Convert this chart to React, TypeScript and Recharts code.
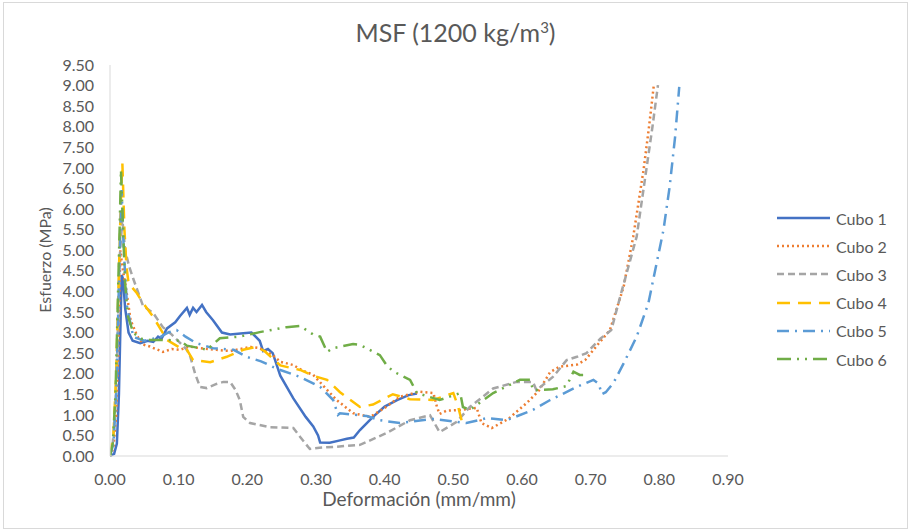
import React from 'react';
import { LineChart, Line, XAxis, YAxis } from 'recharts';

const xTicks = [0, 0.1, 0.2, 0.3, 0.4, 0.5, 0.6, 0.7, 0.8, 0.9];
const yTicks = [0, 0.5, 1, 1.5, 2, 2.5, 3, 3.5, 4, 4.5, 5, 5.5, 6, 6.5, 7, 7.5, 8, 8.5, 9, 9.5];

const cubo1: number[][] = [
  [0, 0], [0.006, 0.05], [0.01, 0.3], [0.013, 1.5], [0.015, 3.0], [0.017, 4.4], [0.019, 4.3], [0.022, 3.6],
  [0.027, 3.0], [0.033, 2.8], [0.044, 2.74], [0.055, 2.8], [0.063, 2.77], [0.07, 2.9], [0.075, 2.85],
  [0.083, 3.1], [0.095, 3.25], [0.102, 3.4], [0.112, 3.6], [0.116, 3.43], [0.121, 3.6], [0.126, 3.5],
  [0.134, 3.67], [0.14, 3.5], [0.15, 3.3], [0.163, 3.0], [0.175, 2.95], [0.194, 2.98], [0.206, 3.0],
  [0.218, 2.8], [0.223, 2.55], [0.23, 2.6], [0.237, 2.5], [0.248, 1.95], [0.267, 1.4], [0.285, 0.95],
  [0.296, 0.72], [0.303, 0.5], [0.306, 0.33], [0.32, 0.32], [0.335, 0.38], [0.345, 0.42], [0.355, 0.45],
  [0.364, 0.63], [0.383, 0.95], [0.4, 1.2], [0.418, 1.36], [0.435, 1.48], [0.447, 1.52],
];

const cubo2: number[][] = [
  [0, 0], [0.005, 0.2], [0.009, 1.0], [0.012, 2.5], [0.015, 5.0], [0.018, 4.6], [0.024, 4.0], [0.03, 3.3],
  [0.04, 2.9], [0.05, 2.7], [0.058, 2.66], [0.077, 2.53], [0.09, 2.6], [0.102, 2.58], [0.115, 2.66],
  [0.131, 2.62], [0.155, 2.58], [0.175, 2.55], [0.19, 2.6], [0.205, 2.65], [0.218, 2.62], [0.237, 2.45],
  [0.248, 2.29], [0.267, 2.21], [0.28, 2.08], [0.296, 1.97], [0.311, 1.7], [0.33, 1.36], [0.354, 1.04],
  [0.379, 0.95], [0.403, 1.2], [0.422, 1.44], [0.451, 1.56], [0.471, 1.53], [0.476, 1.2], [0.48, 1.02],
  [0.49, 1.1], [0.51, 1.12], [0.534, 1.17], [0.541, 0.8], [0.556, 0.68], [0.58, 0.9], [0.607, 1.29],
  [0.616, 1.44], [0.625, 1.6], [0.641, 2.04], [0.655, 2.17], [0.68, 2.22], [0.692, 2.33], [0.71, 2.7],
  [0.728, 3.06], [0.748, 4.11], [0.762, 5.33], [0.777, 6.95], [0.785, 8.0], [0.792, 9.01],
];

const cubo3: number[][] = [
  [0, 0], [0.004, 0.3], [0.008, 1.2], [0.011, 2.8], [0.014, 4.8], [0.018, 5.75], [0.022, 5.0], [0.028, 4.6],
  [0.034, 4.3], [0.048, 3.65], [0.063, 3.47], [0.077, 3.13], [0.09, 2.95], [0.112, 2.58], [0.117, 2.41],
  [0.124, 2.0], [0.131, 1.68], [0.141, 1.65], [0.155, 1.75], [0.165, 1.8], [0.175, 1.8], [0.183, 1.6],
  [0.189, 1.36], [0.194, 0.95], [0.204, 0.8], [0.233, 0.7], [0.267, 0.68], [0.277, 0.46], [0.291, 0.17],
  [0.305, 0.2], [0.325, 0.22], [0.364, 0.27], [0.403, 0.56], [0.437, 0.87], [0.466, 0.99], [0.48, 0.58],
  [0.505, 0.83], [0.524, 1.19], [0.558, 1.64], [0.592, 1.8], [0.616, 1.8], [0.621, 1.6], [0.645, 1.92],
  [0.665, 2.33], [0.68, 2.41], [0.694, 2.5], [0.714, 2.85], [0.73, 3.06], [0.743, 3.87], [0.767, 5.33],
  [0.781, 6.95], [0.79, 8.0], [0.798, 9.01],
];

const cubo4: number[][] = [
  [0, 0], [0.005, 0.5], [0.009, 2.0], [0.013, 4.5], [0.016, 6.3], [0.018, 7.12], [0.021, 5.5], [0.024, 4.6],
  [0.027, 4.2], [0.039, 3.96], [0.048, 3.72], [0.063, 3.38], [0.083, 2.82], [0.1, 2.65], [0.112, 2.58],
  [0.121, 2.33], [0.146, 2.28], [0.17, 2.41], [0.194, 2.58], [0.213, 2.65], [0.225, 2.55], [0.248, 2.2],
  [0.277, 2.09], [0.296, 1.95], [0.316, 1.85], [0.335, 1.55], [0.364, 1.19], [0.383, 1.25], [0.412, 1.5],
  [0.437, 1.38], [0.47, 1.36], [0.485, 1.44], [0.5, 1.53], [0.507, 1.2], [0.512, 0.87],
];

const cubo5: number[][] = [
  [0, 0], [0.005, 0.3], [0.009, 1.5], [0.012, 3.5], [0.015, 5.5], [0.017, 6.46], [0.02, 5.0], [0.025, 3.6],
  [0.034, 2.89], [0.05, 2.8], [0.073, 2.89], [0.085, 3.0], [0.097, 3.06], [0.11, 2.9], [0.126, 2.74],
  [0.15, 2.62], [0.18, 2.58], [0.199, 2.41], [0.22, 2.3], [0.238, 2.16], [0.248, 2.09], [0.277, 1.92],
  [0.306, 1.68], [0.325, 1.36], [0.332, 1.0], [0.335, 1.04], [0.374, 0.97], [0.393, 0.87], [0.422, 0.8],
  [0.47, 0.9], [0.519, 0.8], [0.549, 0.92], [0.578, 0.87], [0.616, 1.12], [0.641, 1.36], [0.68, 1.68],
  [0.704, 1.85], [0.712, 1.75], [0.716, 1.5], [0.722, 1.55], [0.733, 1.77], [0.748, 2.25], [0.767, 2.9],
  [0.784, 3.71], [0.796, 4.68], [0.806, 5.49], [0.815, 6.54], [0.823, 7.76], [0.829, 8.97],
];

const cubo6: number[][] = [
  [0, 0], [0.004, 0.3], [0.008, 1.5], [0.011, 3.5], [0.014, 5.5], [0.016, 6.95], [0.019, 5.5], [0.022, 4.2],
  [0.026, 3.4], [0.034, 2.99], [0.045, 2.85], [0.058, 2.82], [0.083, 2.82], [0.102, 2.8], [0.112, 2.68],
  [0.131, 2.62], [0.141, 2.58], [0.16, 2.86], [0.189, 2.9], [0.218, 3.01], [0.257, 3.13], [0.277, 3.16],
  [0.296, 2.95], [0.306, 2.9], [0.316, 2.53], [0.325, 2.62], [0.354, 2.72], [0.364, 2.7], [0.393, 2.45],
  [0.403, 2.2], [0.413, 2.05], [0.437, 1.85], [0.447, 1.53], [0.48, 1.36], [0.505, 1.5], [0.51, 1.53],
  [0.514, 1.19], [0.524, 1.12], [0.558, 1.53], [0.597, 1.85], [0.612, 1.85], [0.616, 1.6], [0.645, 1.62],
  [0.665, 1.7], [0.675, 2.05], [0.684, 1.97], [0.689, 1.97],
];

const seriesNames = ['Cubo 1', 'Cubo 2', 'Cubo 3', 'Cubo 4', 'Cubo 5', 'Cubo 6'];
const seriesData = [cubo1, cubo2, cubo3, cubo4, cubo5, cubo6];
const seriesColors = ['#4472C4', '#ED7D31', '#A5A5A5', '#FFC000', '#5B9BD5', '#70AD47'];
const seriesDash = ['', '2 3', '7 4', '13 8', '12 6 2 6', '14 6 2 6 2 6'];

const FONT = 'Lato, "Open Sans", sans-serif';
const GRAY = '#595959';

const toPoints = (arr: number[][]) => arr.map(([x, y]) => ({ x, y }));

const LegendBox = () => (
  <div style={{ position: 'absolute', left: 776, top: 204, fontFamily: FONT, fontSize: 16, color: GRAY }}>
    {seriesNames.map((n, i) => (
      <div key={n} style={{ display: 'flex', alignItems: 'center', height: 28.2 }}>
        <svg width={56} height={10} style={{ display: 'block' }}>
          <line x1={1} y1={5} x2={54} y2={5} stroke={seriesColors[i]} strokeWidth={2.5}
            strokeDasharray={seriesDash[i] || undefined} />
        </svg>
        <span style={{ marginLeft: 4 }}>{n}</span>
      </div>
    ))}
  </div>
);

export default function App() {
  return (
    <div style={{ position: 'absolute', left: 0, top: 0, width: 911, height: 531, background: '#fff', overflow: 'hidden' }}>
      <div style={{ position: 'absolute', left: 3, top: 2, width: 903, height: 525, border: '1px solid #d9d9d9' }} />
      <div style={{ position: 'absolute', left: 0, width: 911, top: 14, textAlign: 'center', fontFamily: FONT, fontSize: 25, color: GRAY, lineHeight: '36px' }}>
        MSF (1200 kg/m<sup style={{ fontSize: 15, lineHeight: 0 }}>3</sup>)
      </div>
      <div style={{ position: 'absolute', left: 110, width: 618, top: 486, textAlign: 'center', fontFamily: FONT, fontSize: 19, color: GRAY, lineHeight: '26px' }}>
        Deformación (mm/mm)
      </div>
      <div style={{ position: 'absolute', left: 45 - 100, top: 260 - 11, width: 200, textAlign: 'center', fontFamily: FONT, fontSize: 16, color: GRAY, lineHeight: '22px', transform: 'rotate(-90deg)' }}>
        Esfuerzo (MPa)
      </div>
      <LegendBox />
      <div style={{ position: 'absolute', left: 0, top: 0 }}>
        <LineChart width={911} height={531} margin={{ top: 65, right: 183, bottom: 35, left: 0 }}>
          <XAxis
            dataKey="x"
            type="number"
            domain={[0, 0.9]}
            ticks={xTicks}
            tickFormatter={(v: number) => v.toFixed(2)}
            stroke="#d9d9d9"
            tickLine={false}
            tickSize={0}
            tickMargin={18}
            height={40}
            tick={{ fill: GRAY, fontSize: 16, fontFamily: FONT }}
            allowDataOverflow
          />
          <YAxis
            dataKey="y"
            type="number"
            domain={[0, 9.5]}
            ticks={yTicks}
            tickFormatter={(v: number) => v.toFixed(2)}
            stroke="#d9d9d9"
            tickLine={false}
            tickSize={0}
            tickMargin={16}
            width={110}
            interval={0}
            tick={{ fill: GRAY, fontSize: 16, fontFamily: FONT }}
          />
          {seriesNames.map((n, i) => (
            <Line
              key={n}
              name={n}
              data={toPoints(seriesData[i])}
              dataKey="y"
              type="linear"
              stroke={seriesColors[i]}
              strokeWidth={2.5}
              strokeDasharray={seriesDash[i] || undefined}
              dot={false}
              activeDot={false}
              isAnimationActive={false}
            />
          ))}
        </LineChart>
      </div>
    </div>
  );
}
